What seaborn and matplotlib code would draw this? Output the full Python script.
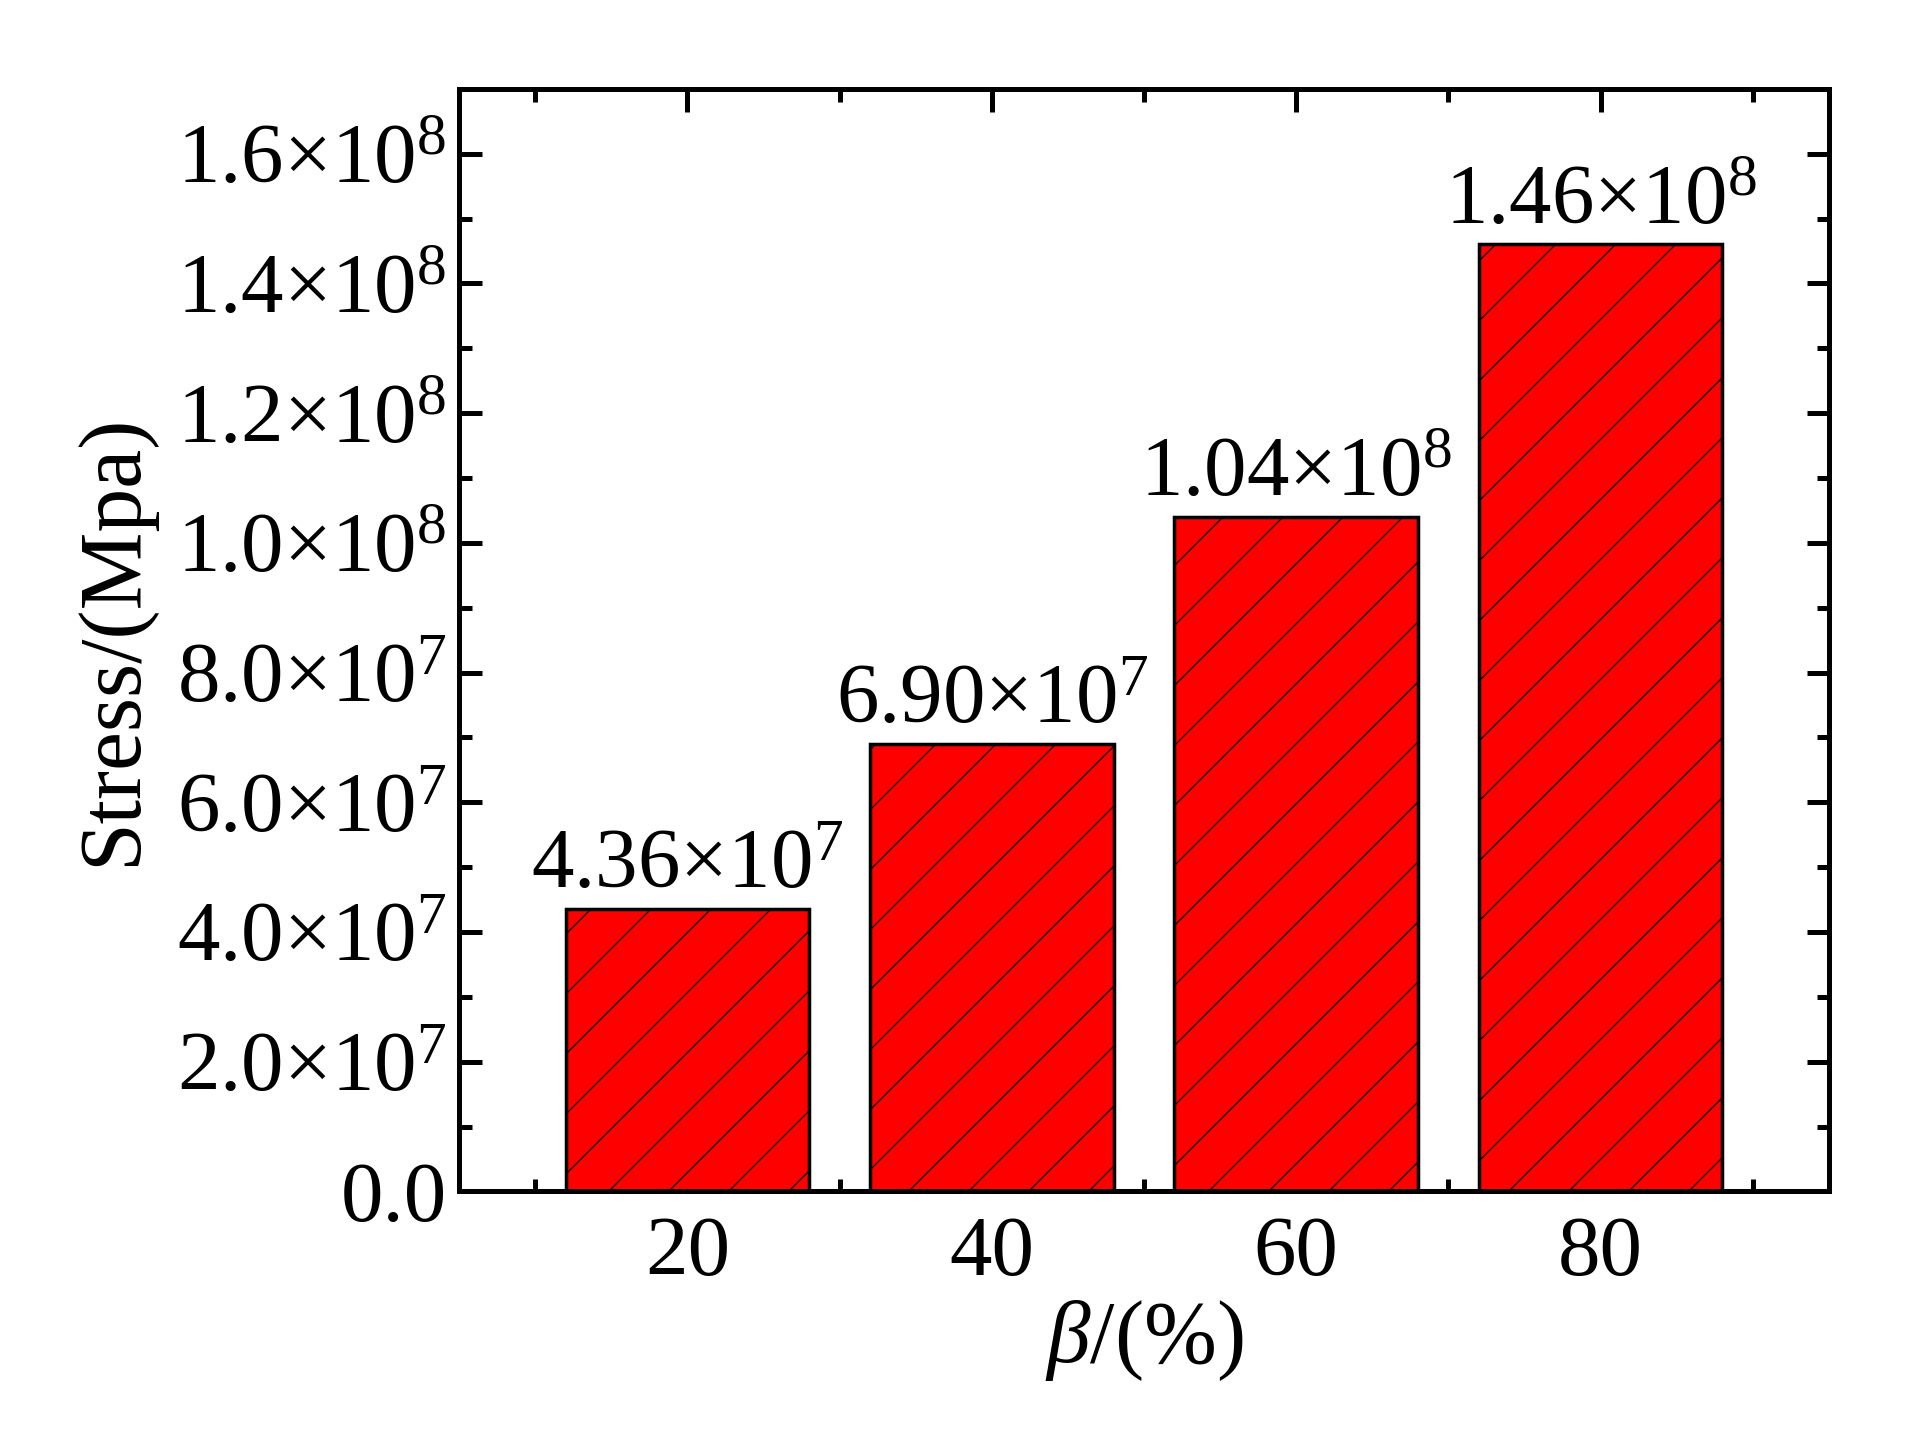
import numpy as np
import pandas as pd
import matplotlib
matplotlib.use('Agg')
import matplotlib.pyplot as plt
import seaborn as sns
from matplotlib.ticker import MultipleLocator, FuncFormatter

beta = [20, 40, 60, 80]
stress = [4.36e7, 6.90e7, 1.04e8, 1.46e8]
bar_labels = ['4.36×10$^{7}$', '6.90×10$^{7}$', '1.04×10$^{8}$', '1.46×10$^{8}$']

df = pd.DataFrame({'beta': beta, 'stress': stress})

sns.set_style('ticks')
plt.rcParams['font.family'] = ['Liberation Serif', 'DejaVu Serif']
plt.rcParams['mathtext.fontset'] = 'custom'
plt.rcParams['mathtext.rm'] = 'Liberation Serif'
plt.rcParams['mathtext.it'] = 'Liberation Serif:italic'
plt.rcParams['hatch.linewidth'] = 0.5
plt.rcParams['axes.linewidth'] = 2.0
for key in ['text.color', 'axes.labelcolor', 'axes.edgecolor', 'xtick.color', 'ytick.color']:
    plt.rcParams[key] = 'black'

fig, ax = plt.subplots(figsize=(1905 / 180, 1432 / 180), dpi=180)
fig.subplots_adjust(left=0.241, right=0.960, bottom=0.168, top=0.938)

sns.barplot(data=df, x='beta', y='stress', native_scale=True, width=0.8,
            color='#ff0000', saturation=1, edgecolor='black', linewidth=1.4,
            hatch='/', ax=ax)

ax.bar_label(ax.containers[0], labels=bar_labels, padding=1, fontsize=34)

ax.set_xlim(5, 95)
ax.set_ylim(0, 1.7e8)
ax.xaxis.set_major_locator(MultipleLocator(20))
ax.xaxis.set_minor_locator(MultipleLocator(10))
ax.yaxis.set_major_locator(MultipleLocator(2e7))
ax.yaxis.set_minor_locator(MultipleLocator(1e7))


def sci_fmt(v, pos):
    if abs(v) < 1:
        return '0.0'
    if v < 0:
        return ''
    exp = int(np.floor(np.log10(v)))
    return f'{v / 10**exp:.1f}×10$^{{{exp}}}$'


ax.yaxis.set_major_formatter(FuncFormatter(sci_fmt))
ax.tick_params(which='both', direction='in', top=True, right=True, width=2.0, labelsize=34)
ax.tick_params(which='major', length=9)
ax.tick_params(which='minor', length=5)
ax.tick_params(axis='x', pad=10)
ax.tick_params(axis='y', pad=5)

ax.set_xlabel(r'$\it{β}$/(%)', fontsize=35, labelpad=2)
ax.set_ylabel('Stress/(Mpa)', fontsize=35, labelpad=9)

fig.savefig('out.png', dpi=180)
